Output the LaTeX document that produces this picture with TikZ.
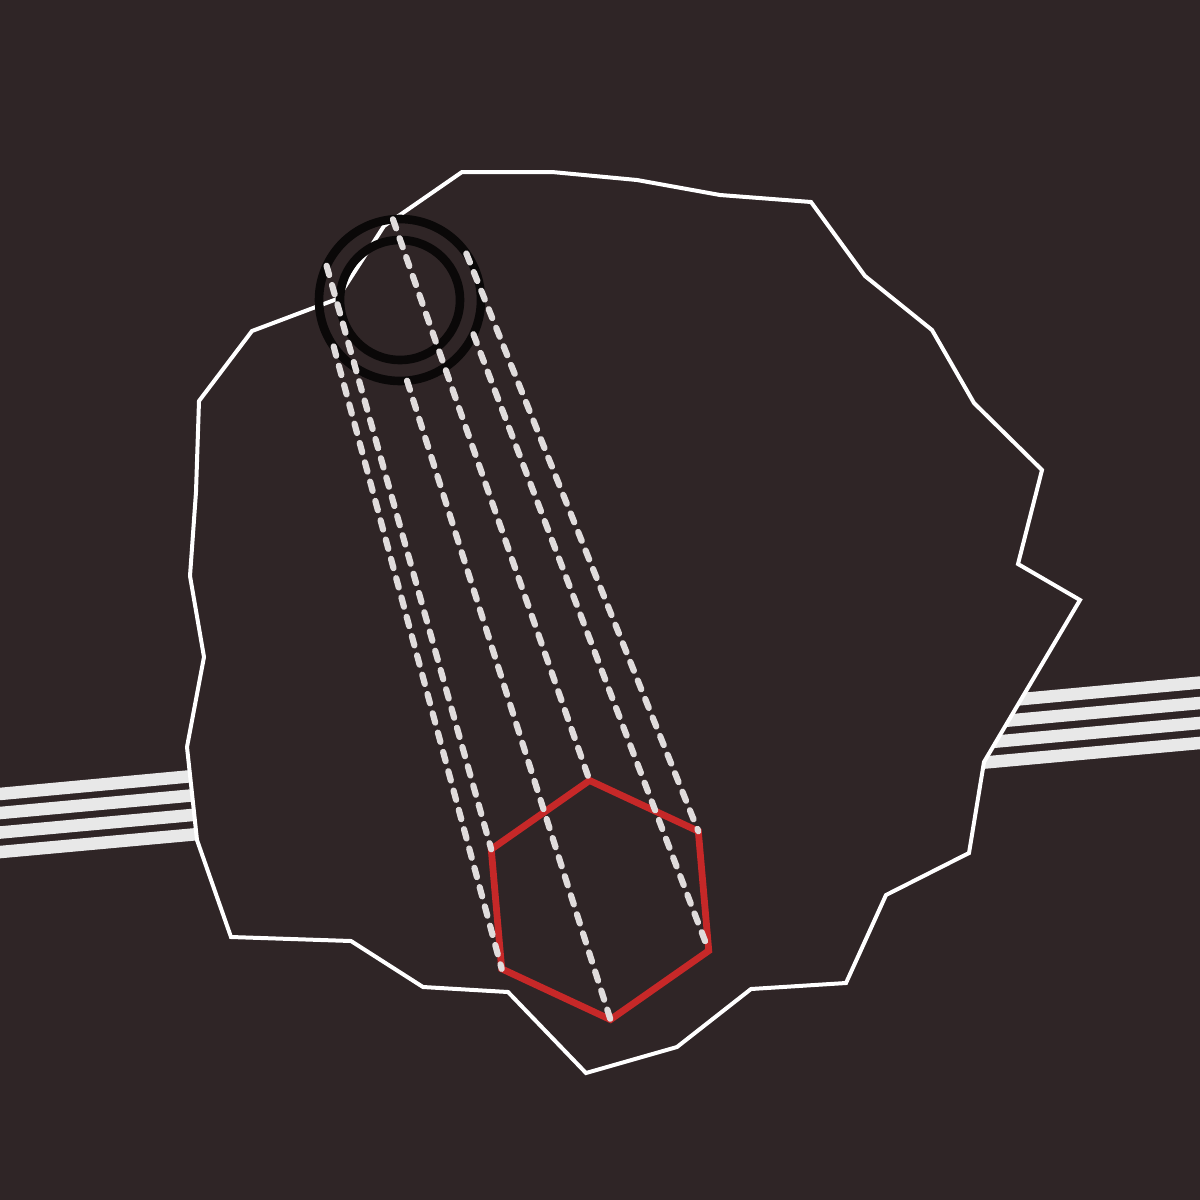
\documentclass[tikz,border=0pt]{standalone}

\definecolor{bgdark}{RGB}{47,37,38}
\definecolor{stripegray}{RGB}{232,232,232}
\definecolor{raygray}{RGB}{224,220,220}
\definecolor{hexred}{RGB}{198,40,40}
\definecolor{ringblack}{RGB}{10,8,8}

\begin{document}
\begin{tikzpicture}[
  x=0.5pt, y=-0.5pt,
  stripe/.style={stripegray, line width=6.25pt},
  outline/.style={draw=white, fill=bgdark, line width=2pt},
  ring/.style={draw=ringblack, line width=4.3pt},
  hexline/.style={draw=hexred, line width=3.4pt},
  ray/.style={raygray, line width=3.1pt, line cap=round, dash pattern=on 4.8pt off 5.2pt}
]
\fill[bgdark] (0,0) rectangle (1200,1200);
\useasboundingbox (0,0) rectangle (1200,1200);

% road stripes behind the island
\begin{scope}
  \clip (0,0) rectangle (1200,1200);
  \foreach \ya/\yb in {794/682.5, 813/703, 832.5/723, 852/743}
    \draw[stripe] (-50,\ya+4.6) -- (1250,\yb-4.6);
\end{scope}

% island
\draw[outline] (462,172) -- (552,172) -- (637,180) -- (720,195) -- (811,202)
  -- (865,276) -- (932,330) -- (974,403) -- (1042,470) -- (1018,564)
  -- (1080,600) -- (984,762) -- (969,853) -- (886,895) -- (846,983)
  -- (751,989) -- (677,1047) -- (586,1073) -- (508,992) -- (423,987)
  -- (351,941) -- (231,937) -- (197,840) -- (187,747) -- (204,657)
  -- (190,576) -- (196,492) -- (199,401) -- (252,331) -- (337,299)
  -- (384,226) -- cycle;

% hexagon and ring points
\coordinate (hexc) at (600,900);
\coordinate (ringc) at (400,300);
\foreach \a [count=\i] in {-95,-35,25,85,145,205} {
  \coordinate (h\i) at ([shift={(\a:120)}]hexc);
  \coordinate (c\i) at ([shift={(\a:81)}]ringc);
}
\draw[hexline] (h1) -- (h2) -- (h3) -- (h4) -- (h5) -- (h6) -- cycle;

% rings
\draw[ring] (ringc) circle[radius=40.5pt];
\draw[ring] (ringc) circle[radius=30pt];

% rays
\foreach \i in {1,...,6}
  \draw[ray] (c\i) -- (h\i);
\end{tikzpicture}
\end{document}
